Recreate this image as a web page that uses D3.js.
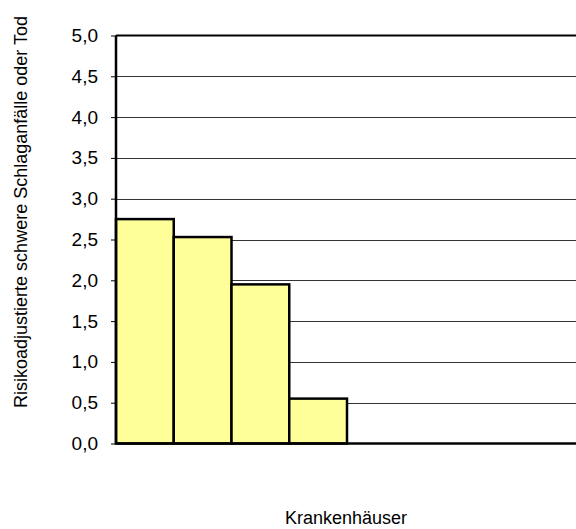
<!DOCTYPE html>
<html>
<head>
<meta charset="utf-8">
<script src="https://cdn.jsdelivr.net/npm/d3@7"></script>
<style>
  html, body { margin: 0; padding: 0; background: #fff; }
  svg { display: block; }
  text { font-family: "Liberation Sans", Arial, sans-serif; fill: #000; }
</style>
</head>
<body>
<svg id="chart" width="576" height="529"></svg>
<script>
// Hospitals (anonymised) and their risk-adjusted rate of severe strokes or death
const hospitals = ["K1", "K2", "K3", "K4", "K5", "K6", "K7", "K8"];
const rates = [2.75, 2.53, 1.95, 0.55, null, null, null, null];
const yTicks = [0, 0.5, 1, 1.5, 2, 2.5, 3, 3.5, 4, 4.5, 5];
const yTitle = "Risikoadjustierte schwere Schlaganfälle oder Tod";
const xTitle = "Krankenhäuser";

const svg = d3.select("#chart");
const plotLeft = 116, plotTop = 35.5, plotBottom = 443.5, plotRight = 578;

const x = d3.scaleBand().domain(hospitals).range([plotLeft, plotRight]).padding(0);
const y = d3.scaleLinear().domain([0, 5]).range([plotBottom, plotTop]);
const fmt = v => d3.format(".1f")(v).replace(".", ",");

// horizontal gridlines
svg.append("g")
  .selectAll("line")
  .data(yTicks.filter(t => t > 0 && t < 5))
  .join("line")
  .attr("x1", plotLeft).attr("x2", 576)
  .attr("y1", d => Math.round(y(d)) + 0.5).attr("y2", d => Math.round(y(d)) + 0.5)
  .attr("stroke", "#333").attr("stroke-width", 1);

// top border of plot area
svg.append("line")
  .attr("x1", plotLeft).attr("x2", 576)
  .attr("y1", y(5)).attr("y2", y(5))
  .attr("stroke", "#000").attr("stroke-width", 2);

// bars
svg.append("g")
  .selectAll("rect")
  .data(hospitals.map((h, i) => ({ h, v: rates[i] })).filter(d => d.v != null))
  .join("rect")
  .attr("x", d => x(d.h))
  .attr("y", d => y(d.v))
  .attr("width", x.bandwidth())
  .attr("height", d => y(0) - y(d.v))
  .attr("fill", "#FFFF99")
  .attr("stroke", "#000")
  .attr("stroke-width", 2.5);

// y axis
const yAxis = d3.axisLeft(y).tickValues(yTicks).tickFormat(fmt).tickSize(5).tickPadding(13);
const ga = svg.append("g").attr("transform", `translate(${plotLeft},0)`).call(yAxis);
ga.attr("font-size", null).attr("font-family", null);
ga.select(".domain").attr("stroke", "#000").attr("stroke-width", 2.5).attr("d", `M0,${plotTop}V${plotBottom}`);
ga.selectAll(".tick line").attr("stroke", "#000");
ga.selectAll(".tick text").style("font-size", "19px").attr("fill", "#000");

// x axis baseline
svg.append("line")
  .attr("x1", plotLeft).attr("x2", 576)
  .attr("y1", y(0)).attr("y2", y(0))
  .attr("stroke", "#000").attr("stroke-width", 2.5);

// axis titles
svg.append("text")
  .attr("transform", "translate(27,212) rotate(-90)")
  .attr("text-anchor", "middle")
  .style("font-size", "18px")
  .text(yTitle);

svg.append("text")
  .attr("x", (plotLeft + 576) / 2)
  .attr("y", 524)
  .attr("text-anchor", "middle")
  .style("font-size", "18px")
  .text(xTitle);
</script>
</body>
</html>
